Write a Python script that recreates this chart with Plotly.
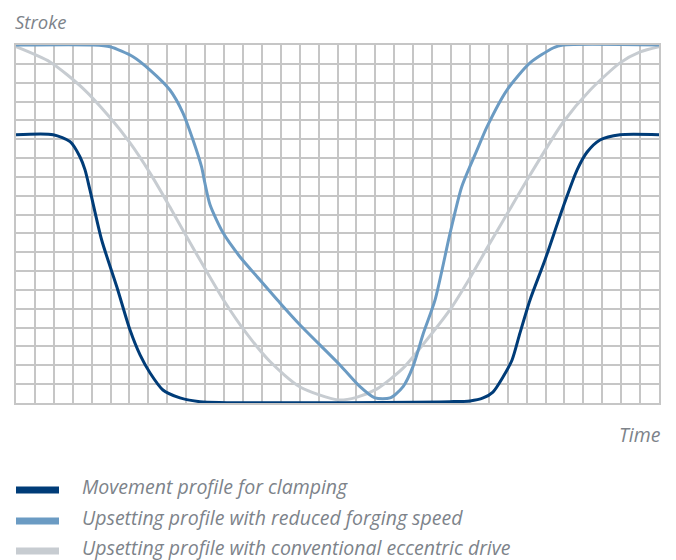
import plotly.graph_objects as go

# Movement profile for clamping (time in grid units 0..34, stroke in grid units 0..19)
clamp_t = [0, 1.97, 2.86, 3.38, 3.65, 3.91, 4.53, 5.33, 6.03, 6.56, 7.09, 7.77, 8.67, 9.73,
           22.95, 24.01, 24.70, 25.22, 25.75, 26.23, 26.65, 27.18, 27.97, 28.93, 29.67, 30.20,
           30.88, 31.94, 34]
clamp_s = [14.24, 14.24, 13.87, 13.07, 12.37, 11.31, 8.65, 6.17, 3.87, 2.55, 1.59, 0.69, 0.27,
           0.07, 0.07, 0.11, 0.27, 0.58, 1.38, 2.28, 3.72, 5.47, 7.59, 10.40, 12.37, 13.32,
           13.96, 14.24, 14.24]

# Upsetting profile with reduced forging speed
reduced_t = [0, 4.07, 4.97, 6.19, 7.09, 8.14, 8.83, 9.36, 9.81, 9.99, 10.26, 10.95, 11.85,
             12.90, 13.96, 15.02, 17.13, 18.19, 18.98, 19.78, 20.47, 20.99, 21.54, 22.16, 22.95,
             23.57, 24.38, 24.91, 25.96, 27.18, 28.40, 28.93, 34]
reduced_s = [19, 19, 18.91, 18.38, 17.67, 16.61, 15.39, 13.96, 12.54, 11.66, 10.52, 9.03, 7.75,
             6.53, 5.31, 4.14, 2.02, 0.87, 0.27, 0.27, 0.87, 1.93, 3.70, 5.47, 9.00,
             11.48, 13.43, 14.67, 16.61, 18.05, 18.84, 19, 19]

# Upsetting profile with conventional eccentric drive
ecc_t = [0, 1.80, 3.54, 4.97, 6.03, 7.09, 8.14, 9.04, 10.10, 11.05, 12.11, 13.43, 15.02, 17.03,
         18.0, 19.09, 20.47, 21.36, 22.95, 24.01, 25.07, 26.12, 27.18, 28.93, 30.35, 31.94,
         33.0, 34]
ecc_s = [18.91, 18.10, 16.70, 15.15, 13.80, 12.20, 10.40, 8.80, 6.95, 5.35, 3.80, 2.20, 0.85,
         0.16, 0.30, 0.75, 1.85, 2.90, 4.95, 6.65, 8.50, 10.30, 12.10, 14.90, 16.60, 18.05,
         18.63, 18.91]

names = ["Movement profile for clamping",
         "Upsetting profile with reduced forging speed",
         "Upsetting profile with conventional eccentric drive"]
colors = ["#003c78", "#6b9bc3", "#c7ccd1"]
series = [(clamp_t, clamp_s), (reduced_t, reduced_s), (ecc_t, ecc_s)]

FONT = "Open Sans"
TXT = "#7d838a"
GRID = "#c6c6c6"

fig = go.Figure()
# draw order: eccentric (back), reduced, clamping (front)
for i in [2, 1, 0]:
    t, s = series[i]
    fig.add_trace(go.Scatter(x=t, y=s, mode="lines", name=names[i], showlegend=False,
                             line=dict(color=colors[i], width=3, shape="spline", smoothing=0.7),
                             hoverinfo="skip"))

fig.update_xaxes(range=[0, 34], dtick=1, tick0=0, showticklabels=False, ticks="",
                 showgrid=True, gridcolor=GRID, gridwidth=1.5, zeroline=False,
                 showline=True, linecolor=GRID, linewidth=1.5, mirror=True)
fig.update_yaxes(range=[0, 19], dtick=1, tick0=0, showticklabels=False, ticks="",
                 showgrid=True, gridcolor=GRID, gridwidth=1.5, zeroline=False,
                 showline=True, linecolor=GRID, linewidth=1.5, mirror=True)

# legend (drawn below the plot)
PLOT_H = 358.0
PLOT_W = 643.0
legend_y_px = [-87, -118, -148]
shapes = []
annotations = []
for i, dy in enumerate(legend_y_px):
    yp = dy / PLOT_H
    shapes.append(dict(type="line", xref="paper", yref="paper", x0=0, x1=43 / PLOT_W,
                       y0=yp, y1=yp, line=dict(color=colors[i], width=7)))
    annotations.append(dict(text=names[i], xref="paper", yref="paper", x=64 / PLOT_W, y=yp,
                            xanchor="left", yanchor="middle", showarrow=False, yshift=4,
                            font=dict(family=FONT, size=19.5, color=TXT, style="italic")))

annotations += [
    dict(text="Stroke", xref="paper", yref="paper", x=-2 / PLOT_W, y=1 + 24 / PLOT_H,
         xanchor="left", yanchor="middle", showarrow=False, borderpad=0,
         font=dict(family=FONT, size=18.5, color=TXT, style="italic")),
    dict(text="Time", xref="paper", yref="paper", x=1 + 4 / PLOT_W, y=-31.7 / PLOT_H,
         xanchor="right", yanchor="middle", showarrow=False,
         font=dict(family=FONT, size=19.5, color=TXT, style="italic")),
]

fig.update_layout(
    width=668, height=552,
    margin=dict(l=8, r=17, t=37, b=157),
    paper_bgcolor="white", plot_bgcolor="white",
    font=dict(family=FONT, color=TXT, size=18),
    showlegend=False,
    shapes=shapes,
    annotations=annotations,
)

fig.write_html("out.html")
